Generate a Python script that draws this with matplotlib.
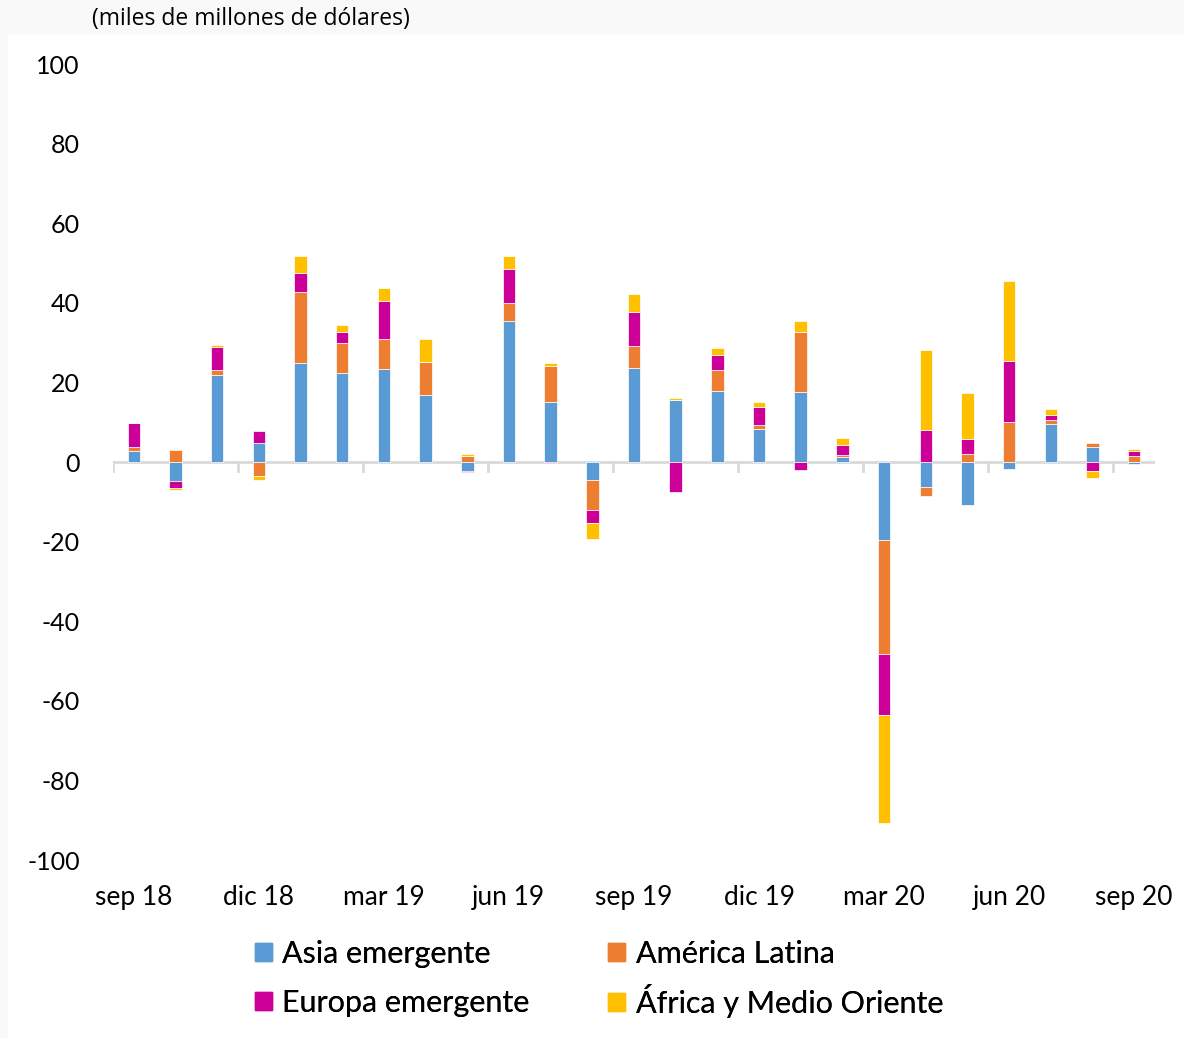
import matplotlib.pyplot as plt
import numpy as np
from matplotlib.patches import Patch, Rectangle

meses = ["sep 18", "oct 18", "nov 18", "dic 18", "ene 19", "feb 19", "mar 19",
         "abr 19", "may 19", "jun 19", "jul 19", "ago 19", "sep 19", "oct 19",
         "nov 19", "dic 19", "ene 20", "feb 20", "mar 20", "abr 20", "may 20",
         "jun 20", "jul 20", "ago 20", "sep 20"]

asia = [2.8, -4.8, 21.9, 4.7, 25.0, 22.3, 23.3, 16.8, -2.2, 35.4, 15.1, -4.4, 23.7,
        15.6, 17.8, 8.3, 17.7, 1.3, -19.7, -6.2, -10.7, -1.7, 9.6, 3.7, -0.6]
latam = [1.0, 2.9, 1.3, -3.4, 17.7, 7.6, 7.7, 8.4, 1.4, 4.6, 8.9, -7.7, 5.4,
         0.0, 5.4, 0.9, 14.9, 0.5, -28.5, -2.3, 2.0, 10.1, 0.9, 1.0, 1.4]
europa = [5.9, -1.8, 5.8, 3.1, 4.9, 2.7, 9.4, 0.0, -0.4, 8.5, -0.3, -3.2, 8.6,
          -7.6, 3.6, 4.5, -2.1, 2.4, -15.4, 8.1, 3.9, 15.4, 1.4, -2.2, 1.4]
africa = [0.0, -0.5, 0.5, -1.0, 4.2, 1.8, 3.2, 5.8, 0.6, 3.3, 1.0, -4.1, 4.6,
          0.4, 1.8, 1.4, 2.8, 1.8, -27.1, 20.1, 11.4, 19.9, 1.4, -1.7, 0.5]

series = [
    ("Asia emergente", asia, "#5B9BD5"),
    ("América Latina", latam, "#ED7D31"),
    ("Europa emergente", europa, "#CC0099"),
    ("África y Medio Oriente", africa, "#FFC000"),
]

fuente = "Lato"

fig = plt.figure(figsize=(11.84, 10.38), dpi=100, facecolor="#f9f9f9")
fig.patches.append(Rectangle((8 / 1184, 0), 1, (1038 - 35) / 1038,
                             transform=fig.transFigure, color="white", zorder=-5))
ax = fig.add_axes([113 / 1184, 178 / 1038, 1042 / 1184, 796 / 1038])
ax.set_facecolor("white")

x = np.arange(len(meses))
pos = np.zeros(len(meses))
neg = np.zeros(len(meses))
for nombre, vals, color in series:
    v = np.array(vals)
    base = np.where(v >= 0, pos, neg)
    ax.bar(x, v, bottom=base, width=0.3, color=color, edgecolor="white",
           linewidth=0.5, zorder=3)
    pos = pos + np.where(v >= 0, v, 0)
    neg = neg + np.where(v < 0, v, 0)

# eje en cero con marcas cada trimestre
ax.axhline(0, color="#d9d9d9", linewidth=2, zorder=2)
for b in np.arange(-0.5, len(meses) - 1, 3):
    ax.plot([b, b], [0, -2.3], color="#d9d9d9", linewidth=2, zorder=2)

ax.set_xlim(-0.5, len(meses) - 0.5)
ax.set_ylim(-100, 100)
ax.set_yticks(range(-100, 101, 20))
ax.set_yticklabels([str(v) for v in range(-100, 101, 20)], fontsize=18, family=fuente)
ax.set_xticks(x[::3])
ax.set_xticklabels(meses[::3], fontsize=19, family=fuente)
ax.tick_params(axis="y", length=0, pad=24)
ax.tick_params(axis="x", length=0, pad=18)
for s in ax.spines.values():
    s.set_visible(False)

fig.text(92 / 1184, 1 - 19 / 1038, "(miles de millones de dólares)", fontsize=16.5,
         family="Open Sans", va="center", ha="left")

# leyenda: una entrada por posicion para alinear filas
lugares = [(255, 954), (608, 954), (255, 1003), (608, 1001)]
for (nombre, _, color), (px, py) in zip(series, lugares):
    leg = fig.legend(handles=[Patch(color=color, label=nombre)], loc="center left",
                     bbox_to_anchor=(px / 1184, 1 - py / 1038), frameon=False,
                     prop={"family": fuente, "size": 22}, handlelength=0.55,
                     handleheight=0.55, handletextpad=0.35, borderaxespad=0,
                     borderpad=0)
    fig.add_artist(leg)

fig.savefig("out.png", dpi=100, facecolor=fig.get_facecolor())
